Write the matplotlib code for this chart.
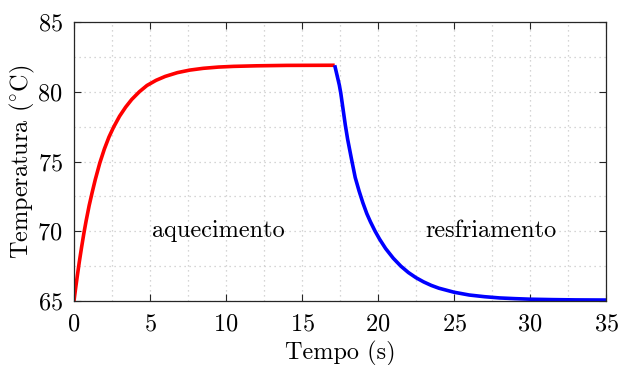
import numpy as np
import matplotlib
matplotlib.use('Agg')
import matplotlib.pyplot as plt
from matplotlib.ticker import MultipleLocator

plt.rcParams['font.family'] = ['cmr10', 'DejaVu Serif']
plt.rcParams['mathtext.fontset'] = 'cm'
plt.rcParams['axes.formatter.use_mathtext'] = True

# heating curve (time in s, temperature in C)
t_heat = [0.0, 0.1, 0.2, 0.35, 0.5, 0.65, 0.8, 1.0, 1.2, 1.4, 1.7, 2.0,
          2.3, 2.6, 3.0, 3.4, 3.8, 4.3, 4.8, 5.4, 6.0, 6.8, 7.6, 8.5,
          9.5, 10.5, 12.0, 14.0, 17.15]
T_heat = [65.0, 65.85, 66.65, 67.8, 68.85, 69.85, 70.75, 71.85, 72.8, 73.7, 74.9, 75.9,
          76.75, 77.45, 78.25, 78.9, 79.45, 80.0, 80.45, 80.82, 81.1, 81.37, 81.55, 81.68,
          81.77, 81.82, 81.86, 81.89, 81.9]

# cooling curve
t_cool = [17.15, 17.3, 17.45, 17.55, 17.7, 17.85, 18.0, 18.25, 18.5, 18.75,
          19.0, 19.26, 19.5, 19.8, 20.1, 20.5, 21.0, 21.5, 22.0, 22.5,
          23.0, 23.5, 24.0, 25.0, 26.0, 27.0, 28.0, 29.0, 30.0, 31.5,
          33.0, 35.0]
T_cool = [81.9, 81.2, 80.5, 79.9, 78.75, 77.6, 76.6, 75.2, 73.85, 72.9,
          72.05, 71.27, 70.68, 70.02, 69.44, 68.76, 68.07, 67.5, 67.04, 66.67,
          66.37, 66.12, 65.92, 65.63, 65.43, 65.31, 65.22, 65.17, 65.13, 65.1,
          65.08, 65.07]

fig = plt.figure(figsize=(6.18, 3.65), dpi=100)
ax = fig.add_axes([0.1197, 0.1753, 0.861, 0.7644])

ax.plot(t_heat, T_heat, color='red', lw=2.6, solid_capstyle='butt', solid_joinstyle='round')
ax.plot(t_cool, T_cool, color='blue', lw=2.6, solid_capstyle='butt', solid_joinstyle='round')

ax.text(9.5, 70, 'aquecimento', fontsize=17.5, ha='center', va='center')
ax.text(27.4, 70, 'resfriamento', fontsize=17.5, ha='center', va='center')

ax.set_xlim(0, 35)
ax.set_ylim(65, 85)
ax.xaxis.set_major_locator(MultipleLocator(5))
ax.yaxis.set_major_locator(MultipleLocator(5))
ax.xaxis.set_minor_locator(MultipleLocator(2.5))
ax.yaxis.set_minor_locator(MultipleLocator(2.5))
ax.grid(True, which='both', color='#c8c8c8', linestyle=(0, (1, 3)), lw=0.9)
ax.set_axisbelow(True)

ax.tick_params(which='major', direction='in', top=True, right=True,
               length=5, width=0.8, labelsize=17.5, color='#262626')
ax.tick_params(axis='x', which='major', pad=9)
ax.tick_params(axis='y', which='major', pad=8)
ax.tick_params(which='minor', length=0)
for s in ax.spines.values():
    s.set_color('#262626')
    s.set_linewidth(0.9)

ax.set_xlabel('Tempo (s)', fontsize=17.5, labelpad=4)
ax.set_ylabel(r'Temperatura ($^{\circ}$C)', fontsize=17.5, labelpad=0.5)

fig.savefig('out.png', dpi=100)
